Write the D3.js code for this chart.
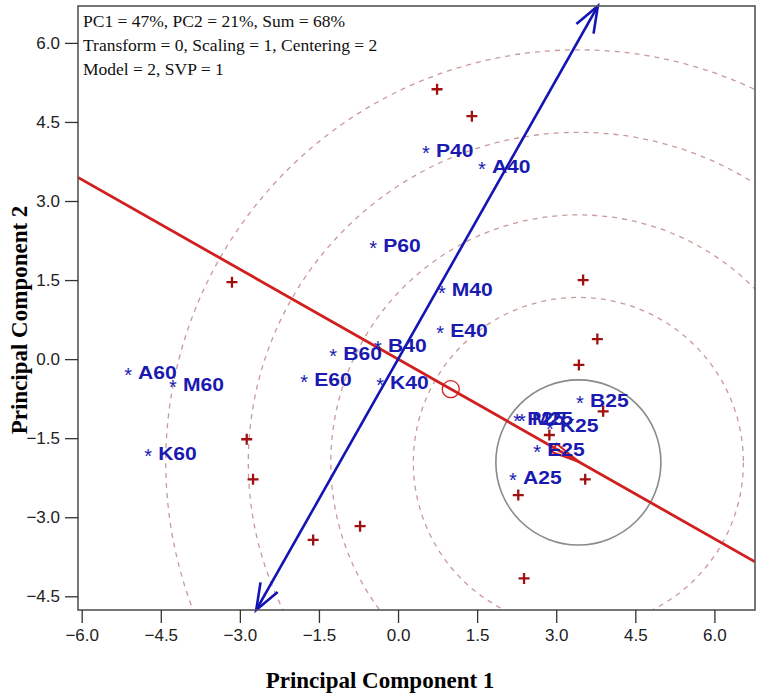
<!DOCTYPE html>
<html><head><meta charset="utf-8">
<script src="https://cdn.jsdelivr.net/npm/d3@7"></script>
<style>body{margin:0;background:#fff}svg{display:block}</style>
</head><body>
<svg id="c" width="765" height="695"></svg>
<script>
// ---- data ----
const infoLines = ["PC1 = 47%, PC2 = 21%, Sum = 68%", "Transform = 0, Scaling = 1, Centering = 2", "Model = 2, SVP = 1"];
const xTicks = [-6.0, -4.5, -3.0, -1.5, 0.0, 1.5, 3.0, 4.5, 6.0];
const yTicks = [-4.5, -3.0, -1.5, 0.0, 1.5, 3.0, 4.5, 6.0];
const genotypeX = [0.74, 1.40, 3.51, 3.78, 3.43, -3.15, 3.89, 2.87, 3.55, 2.28, -2.87, -2.75, -1.61, -0.72, 2.39];
const genotypeY = [5.12, 4.61, 1.50, 0.38, -0.11, 1.46, -0.99, -1.44, -2.28, -2.58, -1.52, -2.28, -3.43, -3.17, -4.16];
const envNames = ["P40","A40","P60","M40","E40","B40","B60","A60","M60","E60","K40","K60","B25","P25","M25","K25","E25","A25"];
const envX = [0.53, 1.59, -0.47, 0.83, 0.80, -0.38, -1.23, -5.12, -4.27, -1.78, -0.34, -4.74, 3.45, 2.26, 2.35, 2.88, 2.64, 2.18];
const envY = [4.00, 3.70, 2.20, 1.35, 0.59, 0.30, 0.15, -0.21, -0.44, -0.34, -0.40, -1.75, -0.74, -1.08, -1.08, -1.23, -1.67, -2.20];
const aecTip = [3.45, -1.96];        // average-environment axis arrow tip
const aecMarker = [1.00, -0.57];     // small circle on the axis
const idealCenter = [3.42, -1.96];
const idealRadius = 1.565;
const ringMultiples = [2, 3, 4, 5];
const blueEnds = [[3.79, 6.70], [-2.69, -4.76]];
const xDomain = [-6.07, 6.77], yDomain = [-4.76, 6.70];

// ---- layout ----
const L = 78, R = 755, T = 6, B = 610;
const svg = d3.select("#c");
const x = d3.scaleLinear().domain(xDomain).range([L, R]);
const y = d3.scaleLinear().domain(yDomain).range([B, T]);
const k = x(1) - x(0);

svg.append("defs").append("clipPath").attr("id","clip")
  .append("rect").attr("x",L).attr("y",T).attr("width",R-L).attr("height",B-T);
const g = svg.append("g").attr("clip-path","url(#clip)");

// dashed rings
g.selectAll("circle.ring").data(ringMultiples).join("circle")
  .attr("cx", x(idealCenter[0])).attr("cy", y(idealCenter[1]))
  .attr("r", m => m*idealRadius*k)
  .attr("fill","none").attr("stroke","#c89a9a").attr("stroke-width",1.3)
  .attr("stroke-dasharray","5,5");
// ideal circle
g.append("circle").attr("cx", x(idealCenter[0])).attr("cy", y(idealCenter[1]))
  .attr("r", idealRadius*k).attr("fill","none").attr("stroke","#8a8a8a").attr("stroke-width",1.6);

// red axis through origin
const slope = aecTip[1]/aecTip[0];
const red = "#d11f1f";
g.append("line").attr("x1", x(xDomain[0])).attr("y1", y(slope*xDomain[0]))
  .attr("x2", x(xDomain[1])).attr("y2", y(slope*xDomain[1]))
  .attr("stroke", red).attr("stroke-width", 2.8);
// red arrowhead (thin triangle)
(function(){
  const tx = x(aecTip[0]), ty = y(aecTip[1]);
  const ang = Math.atan2(ty - y(0), tx - x(0));
  const len = 30, a = 0.16;
  const p1 = [tx - len*Math.cos(ang - a), ty - len*Math.sin(ang - a)];
  const p2 = [tx - len*Math.cos(ang + a), ty - len*Math.sin(ang + a)];
  g.append("path").attr("d", `M${p1}L${tx},${ty}L${p2}Z`).attr("fill","none").attr("stroke",red).attr("stroke-width",2);
})();
g.append("circle").attr("cx", x(aecMarker[0])).attr("cy", y(aecMarker[1])).attr("r", 8.5)
  .attr("fill","none").attr("stroke", red).attr("stroke-width",1.3);

// blue axis
const blue = "#1414b4";
g.append("line").attr("x1", x(blueEnds[0][0])).attr("y1", y(blueEnds[0][1]))
  .attr("x2", x(blueEnds[1][0])).attr("y2", y(blueEnds[1][1]))
  .attr("stroke", blue).attr("stroke-width", 2.6);
blueEnds.forEach((e, i) => {
  const o = blueEnds[1-i];
  const tx = x(e[0]), ty = y(e[1]);
  const ang = Math.atan2(ty - y(o[1]), tx - x(o[0]));
  const len = 28, a = 0.36;
  const p1 = [tx - len*Math.cos(ang - a), ty - len*Math.sin(ang - a)];
  const p2 = [tx - len*Math.cos(ang + a), ty - len*Math.sin(ang + a)];
  svg.append("path").attr("d", `M${p1}L${tx},${ty}L${p2}`).attr("fill","none").attr("stroke",blue).attr("stroke-width",2.6);
});

// genotype crosses
const cs = 5.5;
const gen = genotypeX.map((v,i)=>[v, genotypeY[i]]);
g.selectAll("path.gen").data(gen).join("path")
  .attr("d", d => `M${x(d[0])-cs},${y(d[1])}H${x(d[0])+cs}M${x(d[0])},${y(d[1])-cs}V${y(d[1])+cs}`)
  .attr("stroke","#a01010").attr("stroke-width",2.3);

// environments
const env = envNames.map((n,i)=>({n, x: envX[i], y: envY[i]}));
const eg = svg.append("g").attr("fill", "#1a1ab0").attr("font-family","'Liberation Sans', Arial, sans-serif");
eg.selectAll("text.star").data(env).join("text")
  .attr("x", d => x(d.x)).attr("y", d => y(d.y) + 12)
  .attr("text-anchor","middle").attr("font-size",20).text("*");
eg.selectAll("text.lab").data(env).join("text")
  .attr("transform", d => `translate(${x(d.x)+10},${y(d.y)+8.5}) scale(1.14,1)`)
  .attr("font-size",18.5).attr("font-weight","bold").text(d => d.n);

// box
svg.append("rect").attr("x",L).attr("y",T).attr("width",R-L).attr("height",B-T)
  .attr("fill","none").attr("stroke","#555").attr("stroke-width",1.6);

// axes
const ax = svg.append("g").attr("transform",`translate(0,${B})`)
  .call(d3.axisBottom(x).tickValues(xTicks).tickFormat(d3.format(".1f")).tickSize(13).tickPadding(6));
const ay = svg.append("g").attr("transform",`translate(${L},0)`)
  .call(d3.axisLeft(y).tickValues(yTicks).tickFormat(d3.format(".1f")).tickSize(13).tickPadding(5));
[ax, ay].forEach(a => {
  a.select(".domain").remove();
  a.selectAll("line").attr("stroke","#333").attr("stroke-width",1.3);
  a.selectAll("text").attr("font-family","'Liberation Sans', Arial, sans-serif").attr("font-size",17).attr("fill","#222");
});

// titles
svg.append("text").attr("x", 380).attr("y", 688).attr("text-anchor","middle")
  .attr("font-family","'Liberation Serif', 'Times New Roman', serif").attr("font-weight","bold").attr("font-size",23)
  .text("Principal Component 1");
svg.append("text").attr("transform","translate(27,320) rotate(-90)").attr("text-anchor","middle")
  .attr("font-family","'Liberation Serif', 'Times New Roman', serif").attr("font-weight","bold").attr("font-size",23)
  .text("Principal Component 2");

// info text
svg.append("g").selectAll("text").data(infoLines).join("text")
  .attr("x", 83).attr("y", (d,i) => 27 + i*24)
  .attr("font-family","'Liberation Serif', 'Times New Roman', serif").attr("font-size",17.5).attr("fill","#111")
  .text(d => d);
</script>
</body></html>
